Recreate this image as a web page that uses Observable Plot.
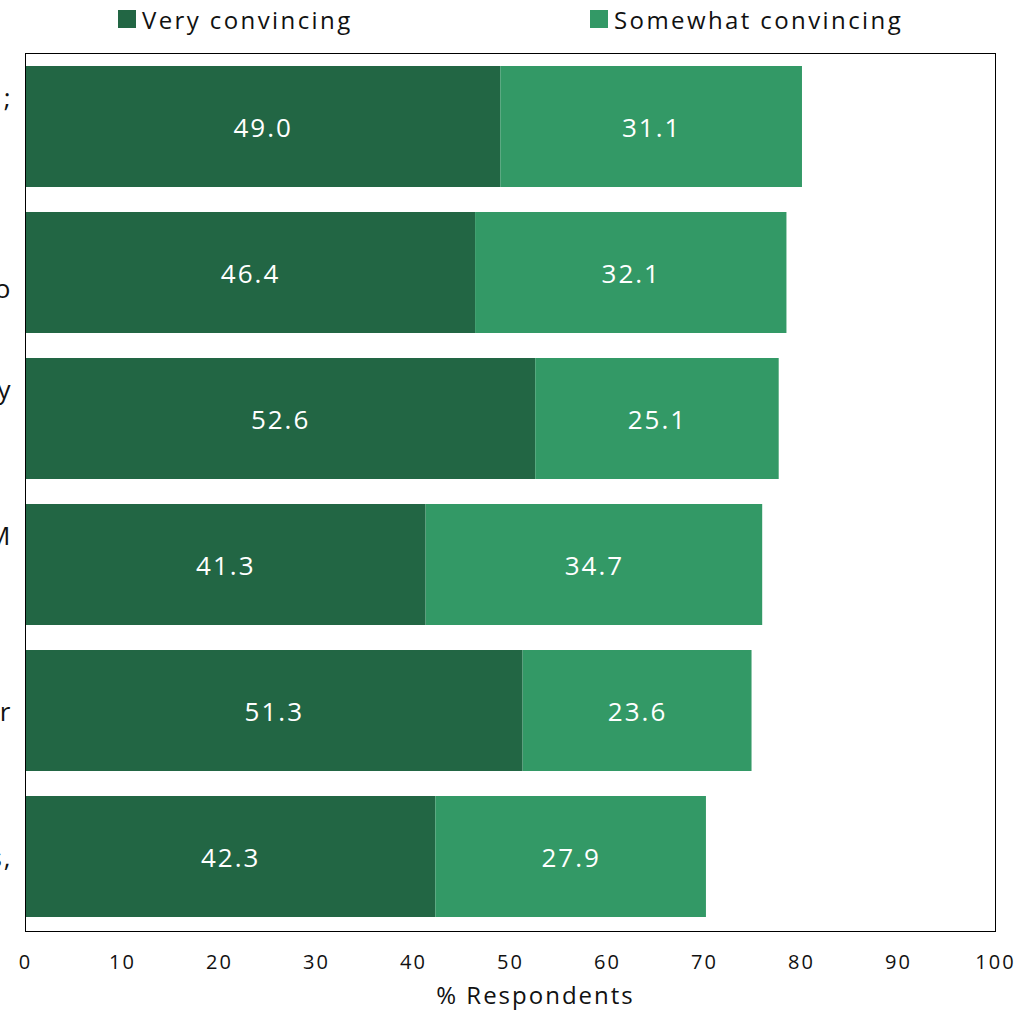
<!DOCTYPE html>
<html>
<head>
<meta charset="utf-8">
<script src="https://cdn.jsdelivr.net/npm/d3@7"></script>
<script src="https://cdn.jsdelivr.net/npm/@observablehq/plot@0.6"></script>
<style>
  html, body { margin: 0; padding: 0; background: #fff; }
  body { width: 1030px; height: 1010px; overflow: hidden; font-family: "Open Sans", sans-serif; }
  #legend { height: 44px; display: flex; align-items: center; padding: 0 0 6px 118px; box-sizing: border-box; }
  .item { flex: 0 0 472px; display: flex; align-items: center; font-size: 24px; color: #111; letter-spacing: 2.4px; }
  .swatch { width: 18px; height: 18px; margin-right: 6px; }
  svg { display: block; }
  svg text { letter-spacing: 2px; }
</style>
</head>
<body>
<div id="legend"></div>
<div id="chart"></div>
<script>
// Category labels: only the line endings survive at the left edge of the page.
const categories = [";\n\n", "\no", "y\n\n", "M\n\n", "r", "s,"];
const series = ["Very convincing", "Somewhat convincing"];
const veryConvincing = [49.0, 46.4, 52.6, 41.3, 51.3, 42.3];
const somewhatConvincing = [31.1, 32.1, 25.1, 34.7, 23.6, 27.9];
const xTicks = [0, 10, 20, 30, 40, 50, 60, 70, 80, 90, 100];
const colors = ["#226644", "#339966"];

const rows = categories.flatMap((c, i) => [
  {category: c, series: series[0], value: veryConvincing[i]},
  {category: c, series: series[1], value: somewhatConvincing[i]}
]);

// Legend
const legend = document.getElementById("legend");
series.forEach((s, i) => {
  const item = document.createElement("div");
  item.className = "item";
  const sw = document.createElement("span");
  sw.className = "swatch";
  sw.style.background = colors[i];
  const label = document.createElement("span");
  label.textContent = s;
  item.append(sw, label);
  legend.append(item);
});

const chart = Plot.plot({
  width: 1030,
  height: 966,
  marginTop: 9,
  marginBottom: 79,
  marginLeft: 25,
  marginRight: 35,
  style: {fontFamily: "Open Sans, sans-serif", background: "#fff"},
  x: {domain: [0, 100], ticks: xTicks, label: null},
  y: {domain: categories, paddingInner: 0.17, paddingOuter: 0.085, label: null, axis: null},
  color: {domain: series, range: colors},
  marks: [
    Plot.barX(rows, Plot.stackX({x: "value", y: "category", fill: "series", order: series})),
    Plot.text(rows, Plot.stackX({
      x: "value", y: "category", z: "series", order: series,
      text: d => d.value.toFixed(1),
      fill: "white", fontSize: 26, dy: 2
    })),
    Plot.text(categories, {
      y: d => d, text: d => d, frameAnchor: "left", textAnchor: "end",
      dx: -13, fontSize: 26, lineHeight: 1.15, fill: "#111"
    }),
    Plot.axisX({ticks: xTicks, tickSize: 0, tickPadding: 23, fontSize: 20, fill: "#111", label: null}),
    Plot.text(["% Respondents"], {
      frameAnchor: "bottom", dy: 72, dx: 25, text: d => d, fontSize: 24, fill: "#111"
    }),
    Plot.frame({stroke: "#000", strokeWidth: 1})
  ]
});
document.getElementById("chart").append(chart);
</script>
</body>
</html>
